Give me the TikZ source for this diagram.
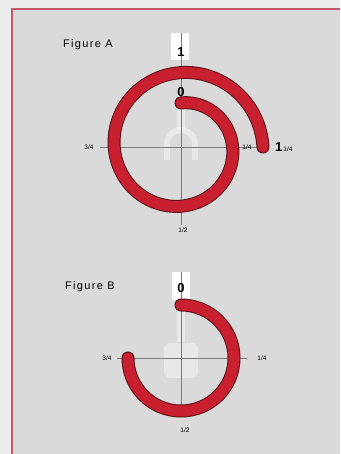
\documentclass[tikz,border=0pt]{standalone}
\usepackage{fontspec}
\setmainfont{Liberation Sans}
\newfontfamily\capfont[LetterSpace=12]{Liberation Sans}
\usepackage{xcolor}
\usepackage{tikz}
\definecolor{pagebg}{HTML}{EDEDED}
\definecolor{panelbg}{HTML}{DADADA}
\definecolor{framered}{HTML}{C25A6A}
\definecolor{ringred}{HTML}{C8202E}
\definecolor{ringedge}{HTML}{5A1018}
\definecolor{axisgray}{HTML}{7A7A7A}
\tikzset{
    casing/.style={draw=ringedge, line width=13pt, line cap=round},
    ring/.style={draw=ringred, line width=11pt, line cap=round},
    axisline/.style={draw=axisgray, line width=0.5pt},
    ghost/.style={white, opacity=0.4},
    caption/.style={font=\capfont\fontsize{11}{13}\selectfont, anchor=west, inner sep=0pt},
    turn/.style={font=\bfseries\fontsize{13}{14}\selectfont, inner sep=0pt},
    frac/.style={font=\fontsize{6.5}{7}\selectfont, inner sep=0pt},
}

\begin{document}
\begin{tikzpicture}[x=1pt, y=1pt]
            \clip (0,0) rectangle (340,454);
            \fill[pagebg] (0,0) rectangle (340,454);
            \filldraw[fill=panelbg, draw=framered, line width=1.5pt] (12,445) rectangle (360,-20);
            % --- figure A ---
            \coordinate (cA) at (181,307);
            \node[caption] (capA) at (63,409) {Figure A};
            \fill[white] (171,394) rectangle (189,421);
            \fill[ghost] (177,324) rectangle (185,356);
            \draw[ghost, line width=6pt] (167,294) -- (167,310) arc[start angle=180, end angle=0, radius=14] -- (195,294);
            \draw[axisline] (100,307) -- (260,307);
            \draw[axisline] (181,421) -- (181,229);
            \draw[casing] plot[domain=0:450, samples=120, smooth] ({181+(82-0.0844*\x)*cos(\x)}, {307+(82-0.0844*\x)*sin(\x)});
            \draw[ring] plot[domain=0:450, samples=120, smooth] ({181+(82-0.0844*\x)*cos(\x)}, {307+(82-0.0844*\x)*sin(\x)});
            \node[turn] (oneA) at (181,402) {1};
            \node[turn] (zeroA) at (181,362) {0};
            \node[frac] (leftA) at (89,307) {3/4};
            \node[frac] (rightA) at (247,307) {1/4};
            \node[turn, anchor=west] (endA) at (275,307) {1\hspace{1pt}{\mdseries\fontsize{6.5}{7}\selectfont 1/4}};
            \node[frac] (botA) at (183,224) {1/2};
            % --- figure B ---
            \coordinate (cB) at (181,96);
            \node[caption] (capB) at (65,167) {Figure B};
            \fill[white] (172,154) rectangle (190,182);
            \fill[ghost] (177,112) rectangle (185,154);
            \fill[ghost, rounded corners=6pt] (164,76) rectangle (198,111);
            \draw[axisline] (117,96) -- (247,96);
            \draw[axisline] (181,182) -- (181,39);
            \draw[casing] (181,149) arc[start angle=90, end angle=-180, radius=53];
            \draw[ring] (181,149) arc[start angle=90, end angle=-180, radius=53];
            \node[turn] (zeroB) at (181,166) {0};
            \node[frac] (leftB) at (107,96) {3/4};
            \node[frac] (rightB) at (262,96) {1/4};
            \node[frac] (botB) at (185,24) {1/2};
        \end{tikzpicture}
\end{document}
